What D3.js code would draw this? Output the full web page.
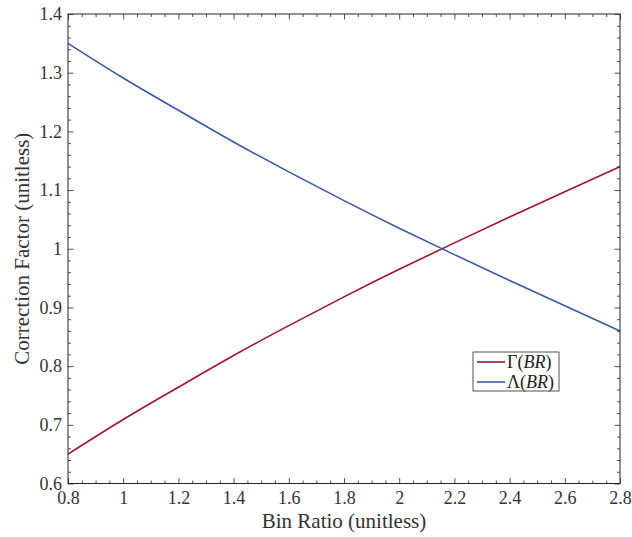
<!DOCTYPE html>
<html>
<head>
<meta charset="utf-8">
<script src="https://cdn.jsdelivr.net/npm/d3@7"></script>
<style>
  html, body { margin: 0; padding: 0; background: #fff; }
</style>
</head>
<body>
<svg id="chart" width="632" height="537"></svg>
<script>
// ---- data ----
const binRatio = [0.8, 1.0, 1.2, 1.4, 1.6, 1.8, 2.0, 2.2, 2.4, 2.6, 2.8];
const gammaBR  = [0.650, 0.709, 0.764, 0.818, 0.869, 0.918, 0.965, 1.010, 1.054, 1.097, 1.140];
const lambdaBR = [1.350, 1.291, 1.236, 1.182, 1.131, 1.082, 1.035, 0.990, 0.946, 0.903, 0.860];
const xTicks = [0.8, 1.0, 1.2, 1.4, 1.6, 1.8, 2.0, 2.2, 2.4, 2.6, 2.8];
const yTicks = [0.6, 0.7, 0.8, 0.9, 1.0, 1.1, 1.2, 1.3, 1.4];
const seriesNames = ["Γ", "Λ"];
const seriesColors = ["#A2142F", "#3A5AA8"];
const xLabel = "Bin Ratio (unitless)";
const yLabel = "Correction Factor (unitless)";

// ---- layout ----
const FONT = "'Liberation Serif', 'Times New Roman', serif";
const L = 68, R = 620, T = 14, B = 483.5;
const svg = d3.select("#chart");
const x = d3.scaleLinear().domain([0.8, 2.8]).range([L, R]);
const y = d3.scaleLinear().domain([0.6, 1.4]).range([B, T]);

const xMinor = d3.range(0, 41).map(i => +(0.8 + i * 0.05).toFixed(2)).filter(v => !xTicks.some(t => Math.abs(t - v) < 1e-9));
const yMinor = d3.range(0, 41).map(i => +(0.6 + i * 0.02).toFixed(2)).filter(v => !yTicks.some(t => Math.abs(t - v) < 1e-9));
const fmt = d => String(+d.toFixed(1));
const axisColor = "#262626";
const MAJ = 5.5, MIN = 3;

// lines
const line = d3.line().x((d, i) => x(binRatio[i])).y(d => y(d)).curve(d3.curveNatural);
const seriesData = [gammaBR, lambdaBR];
svg.append("g").selectAll("path").data(seriesData).join("path")
  .attr("d", d => line(d))
  .attr("fill", "none")
  .attr("stroke", (d, i) => seriesColors[i])
  .attr("stroke-width", 1.6);

function styleAxis(g) {
  g.attr("font-family", FONT).attr("font-size", 18);
  g.select(".domain").remove();
  g.selectAll(".tick line").attr("stroke", axisColor).attr("stroke-width", 0.8);
  g.selectAll(".tick text").attr("fill", "#333").attr("font-family", FONT).attr("font-size", 18);
}

// bottom
svg.append("g").attr("transform", `translate(0,${B})`)
  .call(d3.axisBottom(x).tickValues(xTicks).tickSize(-MAJ).tickPadding(8).tickFormat(fmt)).call(styleAxis);
svg.append("g").attr("transform", `translate(0,${B})`)
  .call(d3.axisBottom(x).tickValues(xMinor).tickSize(-MIN).tickFormat("")).call(styleAxis);
// top
svg.append("g").attr("transform", `translate(0,${T})`)
  .call(d3.axisTop(x).tickValues(xTicks).tickSize(-MAJ).tickFormat("")).call(styleAxis);
svg.append("g").attr("transform", `translate(0,${T})`)
  .call(d3.axisTop(x).tickValues(xMinor).tickSize(-MIN).tickFormat("")).call(styleAxis);
// left
svg.append("g").attr("transform", `translate(${L},0)`)
  .call(d3.axisLeft(y).tickValues(yTicks).tickSize(-MAJ).tickPadding(6).tickFormat(fmt)).call(styleAxis);
svg.append("g").attr("transform", `translate(${L},0)`)
  .call(d3.axisLeft(y).tickValues(yMinor).tickSize(-MIN).tickFormat("")).call(styleAxis);
// right
svg.append("g").attr("transform", `translate(${R},0)`)
  .call(d3.axisRight(y).tickValues(yTicks).tickSize(-MAJ).tickFormat("")).call(styleAxis);
svg.append("g").attr("transform", `translate(${R},0)`)
  .call(d3.axisRight(y).tickValues(yMinor).tickSize(-MIN).tickFormat("")).call(styleAxis);

// box
svg.append("rect").attr("x", L).attr("y", T).attr("width", R - L).attr("height", B - T)
  .attr("fill", "none").attr("stroke", axisColor).attr("stroke-width", 1);

// axis labels
svg.append("text").attr("x", (L + R) / 2).attr("y", 528).attr("text-anchor", "middle")
  .attr("font-family", FONT).attr("font-size", 21).attr("fill", "#333").text(xLabel);
svg.append("text").attr("transform", `translate(29,${(T + B) / 2}) rotate(-90)`).attr("text-anchor", "middle")
  .attr("font-family", FONT).attr("font-size", 21).attr("fill", "#333").text(yLabel);

// legend
const lg = svg.append("g").attr("transform", "translate(473,352)");
lg.append("rect").attr("width", 86).attr("height", 39).attr("fill", "#fff")
  .attr("stroke", axisColor).attr("stroke-width", 0.8);
seriesNames.forEach((n, i) => {
  const yy = 10 + i * 20;
  lg.append("line").attr("x1", 4).attr("x2", 32).attr("y1", yy).attr("y2", yy)
    .attr("stroke", seriesColors[i]).attr("stroke-width", 1.6);
  const t = lg.append("text").attr("x", 34).attr("y", yy + 5.5)
    .attr("font-family", FONT).attr("font-size", 18).attr("fill", "#222");
  t.append("tspan").text(n + "(");
  t.append("tspan").attr("font-style", "italic").text("BR");
  t.append("tspan").text(")");
});
</script>
</body>
</html>
